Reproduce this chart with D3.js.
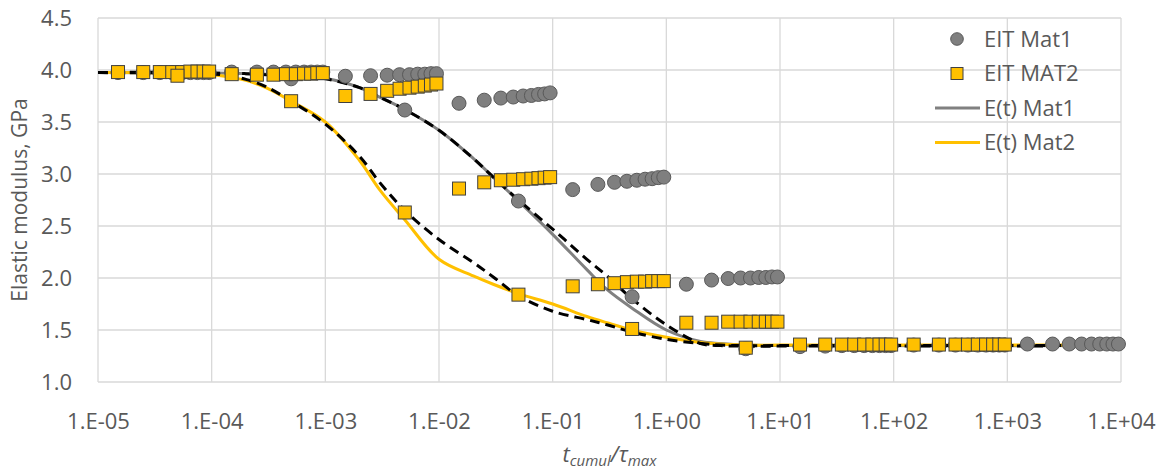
<!DOCTYPE html>
<html>
<head>
<meta charset="utf-8">
<script src="https://cdn.jsdelivr.net/npm/d3@7"></script>
<style>
  body { margin: 0; background: #fff; }
  svg text { font-family: "Open Sans", "Noto Sans", sans-serif; fill: #595959; }
</style>
</head>
<body>
<svg id="chart" width="1163" height="472"></svg>
<script>
// step measurements: each decade holds points at 1.5, 2.5 ... 9.5 x 10^k
var stepMult = [1.5, 2.5, 3.5, 4.5, 5.5, 6.5, 7.5, 8.5, 9.5];
var mat1Decades = [-5, -4, -3, -2, -1, 0, 1, 2, 3];
var mat1Steps = [
  [3.975, 3.975, 3.975, 3.975, 3.975, 3.975, 3.975, 3.975, 3.975],
  [3.98, 3.98, 3.98, 3.98, 3.98, 3.98, 3.98, 3.98, 3.98],
  [3.94, 3.945, 3.95, 3.955, 3.955, 3.96, 3.96, 3.965, 3.965],
  [3.68, 3.71, 3.73, 3.74, 3.75, 3.755, 3.765, 3.77, 3.78],
  [2.85, 2.90, 2.92, 2.93, 2.94, 2.95, 2.955, 2.965, 2.97],
  [1.94, 1.98, 1.995, 2.0, 2.0, 2.005, 2.005, 2.01, 2.01],
  [1.34, 1.345, 1.35, 1.35, 1.35, 1.35, 1.35, 1.35, 1.35],
  [1.355, 1.355, 1.355, 1.355, 1.355, 1.355, 1.355, 1.355, 1.355],
  [1.365, 1.365, 1.365, 1.365, 1.365, 1.365, 1.365, 1.365, 1.365]
];
var mat2Decades = [-5, -4, -3, -2, -1, 0, 1, 2];
var mat2Steps = [
  [3.98, 3.98, 3.98, 3.98, 3.98, 3.985, 3.985, 3.985, 3.985],
  [3.96, 3.955, 3.955, 3.96, 3.96, 3.965, 3.965, 3.97, 3.97],
  [3.75, 3.77, 3.80, 3.82, 3.83, 3.84, 3.85, 3.86, 3.87],
  [2.86, 2.92, 2.94, 2.945, 2.95, 2.955, 2.96, 2.965, 2.97],
  [1.92, 1.94, 1.95, 1.96, 1.965, 1.965, 1.97, 1.97, 1.97],
  [1.57, 1.57, 1.58, 1.58, 1.58, 1.58, 1.58, 1.58, 1.58],
  [1.36, 1.36, 1.36, 1.36, 1.36, 1.36, 1.36, 1.36, 1.36],
  [1.36, 1.36, 1.36, 1.36, 1.36, 1.36, 1.36, 1.36, 1.36]
];

// relaxed points at 5 x 10^k
var relaxT = [5e-5, 5e-4, 5e-3, 5e-2, 5e-1, 5];
var mat1Relax = [3.97, 3.915, 3.615, 2.74, 1.82, 1.32];
var mat2Relax = [3.945, 3.70, 2.63, 1.84, 1.51, 1.33];

// model curves E(t)
var curveT = [1e-5, 1e-4, 2e-4, 3e-4, 5e-4, 1e-3, 2e-3, 3e-3, 5e-3, 1e-2, 2e-2, 3e-2, 5e-2,
              1e-1, 2e-1, 3e-1, 5e-1, 1, 2, 3, 5, 10, 1e4];
var mat1Model = [3.975, 3.97, 3.965, 3.96, 3.945, 3.92, 3.83, 3.74, 3.62, 3.42, 3.15, 2.97, 2.74,
                 2.42, 2.08, 1.89, 1.71, 1.50, 1.39, 1.37, 1.355, 1.35, 1.35];
var mat1Fit   = [3.975, 3.97, 3.965, 3.955, 3.94, 3.915, 3.83, 3.74, 3.62, 3.42, 3.15, 2.97, 2.75,
                 2.47, 2.18, 2.02, 1.80, 1.55, 1.37, 1.35, 1.345, 1.345, 1.345];
var mat2Model = [3.975, 3.955, 3.90, 3.83, 3.70, 3.50, 3.13, 2.85, 2.56, 2.18, 2.02, 1.94, 1.85,
                 1.75, 1.63, 1.57, 1.50, 1.43, 1.38, 1.365, 1.355, 1.355, 1.355];
var mat2Fit   = [3.975, 3.965, 3.91, 3.84, 3.70, 3.48, 3.17, 2.92, 2.65, 2.37, 2.15, 2.01, 1.83,
                 1.68, 1.60, 1.55, 1.48, 1.41, 1.37, 1.355, 1.35, 1.35, 1.35];

var xTicks = [1e-5, 1e-4, 1e-3, 1e-2, 1e-1, 1, 1e1, 1e2, 1e3, 1e4];
var yTicks = [1.0, 1.5, 2.0, 2.5, 3.0, 3.5, 4.0, 4.5];

var legendItems = [
  {name: 'EIT Mat1', type: 'circle'},
  {name: 'EIT MAT2', type: 'square'},
  {name: 'E(t) Mat1', type: 'line', color: '#808080'},
  {name: 'E(t) Mat2', type: 'line', color: '#FFC000'}
];

(function() {
  var svg = d3.select('#chart')
      , plotL = 98, plotR = 1121, plotT = 18, plotB = 382
      ;

  var x = d3.scaleLog().domain([1e-5, 1e4]).range([plotL, plotR]);
  var y = d3.scaleLinear().domain([1, 4.5]).range([plotB, plotT]);

  function points(decades, steps) {
    var out = [];
    decades.forEach(function(k, i) {
      stepMult.forEach(function(m, j) {
        out.push([m * Math.pow(10, k), steps[i][j]]);
      });
    });
    return out;
  }
  function zip(ts, vs) { return ts.map(function(t, i) { return [t, vs[i]]; }); }

  function expLabel(v) {
    var e = Math.round(Math.log10(v));
    return '1.E' + (e < 0 ? '-' : '+') + d3.format('02d')(Math.abs(e));
  }

  // grid
  var grid = svg.append('g').attr('stroke', '#d9d9d9').attr('stroke-width', 1.3);
  grid.selectAll('line.h').data(yTicks).enter().append('line')
    .attr('x1', plotL).attr('x2', plotR)
    .attr('y1', function(d) { return y(d); }).attr('y2', function(d) { return y(d); });
  grid.selectAll('line.v').data(xTicks).enter().append('line')
    .attr('y1', plotT).attr('y2', plotB)
    .attr('x1', function(d) { return x(d); }).attr('x2', function(d) { return x(d); });

  // axes (labels only)
  var xAxis = svg.append('g').attr('transform', 'translate(0,' + (plotB + 28) + ')')
    .call(d3.axisBottom(x).tickValues(xTicks).tickFormat(expLabel).tickSize(0));
  var yAxis = svg.append('g').attr('transform', 'translate(' + (plotL - 26) + ',0)')
    .call(d3.axisLeft(y).tickValues(yTicks).tickFormat(d3.format('.1f')).tickSize(0).tickPadding(0));
  [xAxis, yAxis].forEach(function(a) {
    a.select('.domain').remove();
    a.selectAll('text').style('font-size', '22px').attr('fill', '#595959');
  });
  yAxis.selectAll('text').attr('dy', '0.36em');

  // curves
  var line = d3.line()
      .x(function(d) { return x(d[0]); })
      .y(function(d) { return y(d[1]); })
      .curve(d3.curveCatmullRom.alpha(0.5));

  svg.append('path').datum(zip(curveT, mat1Model))
    .attr('fill', 'none').attr('stroke', '#808080').attr('stroke-width', 3).attr('d', line);
  svg.append('path').datum(zip(curveT, mat2Model))
    .attr('fill', 'none').attr('stroke', '#FFC000').attr('stroke-width', 3).attr('d', line);
  [mat1Fit, mat2Fit].forEach(function(vals) {
    svg.append('path').datum(zip(curveT, vals))
      .attr('fill', 'none').attr('stroke', '#000').attr('stroke-width', 3)
      .attr('stroke-dasharray', '10,6').attr('d', line);
  });

  // markers
  var mat1Pts = points(mat1Decades, mat1Steps).concat(zip(relaxT, mat1Relax));
  var mat2Pts = points(mat2Decades, mat2Steps).concat(zip(relaxT, mat2Relax));

  svg.append('g').selectAll('circle').data(mat1Pts).enter().append('circle')
    .attr('cx', function(d) { return x(d[0]); })
    .attr('cy', function(d) { return y(d[1]); })
    .attr('r', 7)
    .attr('fill', '#7f7f7f').attr('stroke', '#595959').attr('stroke-width', 1);

  var sq = 13;
  svg.append('g').selectAll('rect').data(mat2Pts).enter().append('rect')
    .attr('x', function(d) { return x(d[0]) - sq / 2; })
    .attr('y', function(d) { return y(d[1]) - sq / 2; })
    .attr('width', sq).attr('height', sq)
    .attr('fill', '#FFC000').attr('stroke', '#404040').attr('stroke-width', 1);

  // legend
  var lg = svg.append('g').attr('transform', 'translate(957,39)');
  legendItems.forEach(function(item, i) {
    var g = lg.append('g').attr('transform', 'translate(0,' + (i * 34.5) + ')');
    if (item.type === 'circle') {
      g.append('circle').attr('r', 6.3).attr('fill', '#7f7f7f').attr('stroke', '#595959');
    } else if (item.type === 'square') {
      g.append('rect').attr('x', -6).attr('y', -6).attr('width', 12).attr('height', 12)
        .attr('fill', '#FFC000').attr('stroke', '#404040');
    } else {
      g.append('line').attr('x1', -22).attr('x2', 23).attr('stroke', item.color).attr('stroke-width', 3);
    }
    g.append('text').attr('x', 27).attr('dy', '0.36em').style('font-size', '22px').text(item.name);
  });

  // axis titles
  svg.append('text')
    .attr('transform', 'translate(27,' + ((plotT + plotB) / 2) + ') rotate(-90)')
    .attr('text-anchor', 'middle').style('font-size', '21px')
    .text('Elastic modulus, GPa');

  var xt = svg.append('text').attr('x', (plotL + plotR) / 2).attr('y', 462)
    .attr('text-anchor', 'middle').style('font-size', '22px').style('font-style', 'italic');
  xt.append('tspan').text('t');
  xt.append('tspan').attr('dy', 4).style('font-size', '15px').text('cumul');
  xt.append('tspan').attr('dy', -4).text('/τ');
  xt.append('tspan').attr('dy', 4).style('font-size', '15px').text('max');
})();
</script>
</body>
</html>
